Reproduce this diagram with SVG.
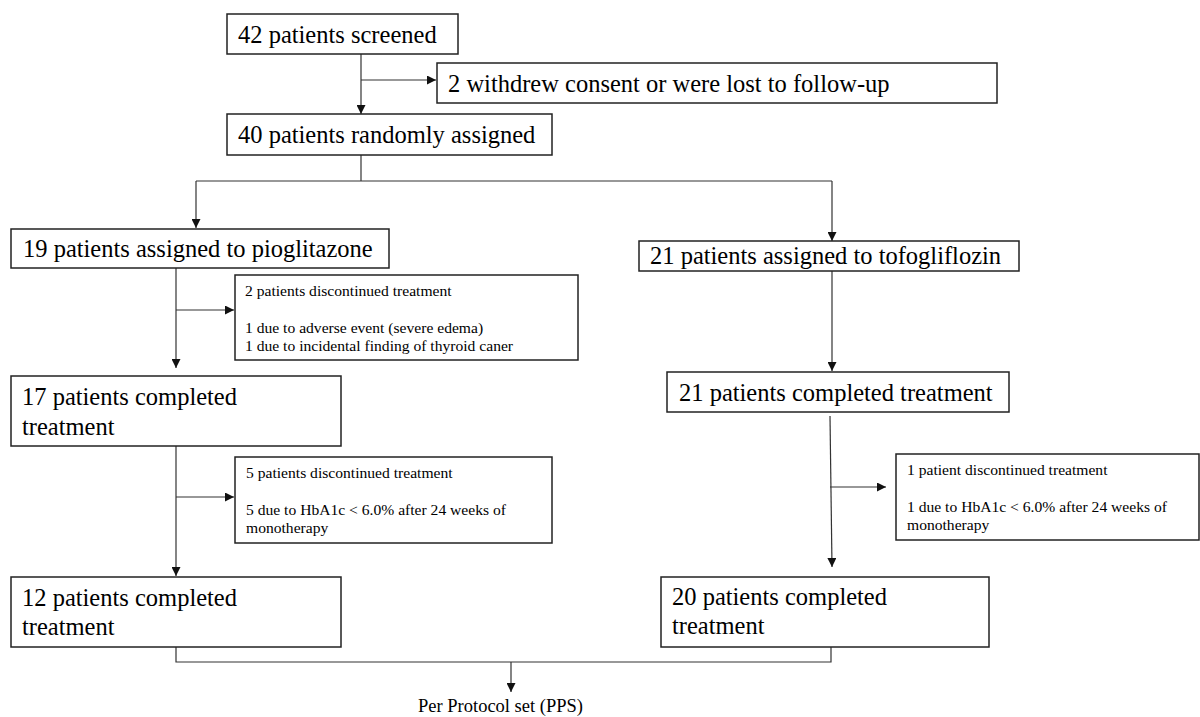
<svg xmlns="http://www.w3.org/2000/svg" width="1200" height="717" viewBox="0 0 1200 717">
<defs>
<marker id="ah" viewBox="0 0 10 10" refX="10" refY="5" markerUnits="userSpaceOnUse" markerWidth="9" markerHeight="9" orient="auto">
<path d="M0,0 L10,5 L0,10 z" fill="#111"/>
</marker>
<style>
text{font-family:'Liberation Serif','Times New Roman',Times,serif;fill:#000}
.box{fill:#fff;stroke:#222;stroke-width:1.5}
.big{font-size:24.5px}
.small{font-size:15.6px}
.pps{font-size:18.5px}
.ln{fill:none;stroke:#333;stroke-width:1.2}
.arr{fill:none;stroke:#333;stroke-width:1.2;marker-end:url(#ah)}
</style>
</defs>
<rect width="1200" height="717" fill="#fff"/>
<g id="connectors">
<line class="arr" x1="361" y1="43" x2="361" y2="114"/>
<line class="arr" x1="361" y1="80" x2="436" y2="80"/>
<polyline class="ln" points="361,155 361,181"/>
<line class="ln" x1="196" y1="181" x2="832" y2="181"/>
<line class="arr" x1="196" y1="181" x2="196" y2="228"/>
<line class="arr" x1="832" y1="181" x2="832" y2="241"/>
<line class="arr" x1="176" y1="268" x2="176" y2="368"/>
<line class="arr" x1="176" y1="310" x2="234" y2="310"/>
<line class="arr" x1="832" y1="271" x2="832" y2="371"/>
<line class="arr" x1="176" y1="446" x2="176" y2="576"/>
<line class="arr" x1="176" y1="497" x2="234" y2="497"/>
<line class="arr" x1="830" y1="416" x2="832" y2="567"/>
<line class="arr" x1="830" y1="487" x2="886" y2="487"/>
<polyline class="ln" points="176,647 176,662 831,662 831,647"/>
<line class="arr" x1="511" y1="662" x2="511" y2="692"/>
</g>
<g id="n1"><rect class="box" x="227" y="14" width="231" height="40"/><text class="big" x="238" y="43" font-family="Liberation Serif">42 patients screened</text></g>
<g id="n2"><rect class="box" x="437" y="63" width="560" height="40"/><text class="big" x="448" y="92">2 withdrew consent or were lost to follow-up</text></g>
<g id="n3"><rect class="box" x="227" y="114" width="325" height="41"/><text class="big" x="238" y="143">40 patients randomly assigned</text></g>
<g id="n4"><rect class="box" x="11" y="229" width="378" height="39"/><text class="big" x="23" y="257">19 patients assigned to pioglitazone</text></g>
<g id="n5"><rect class="box" x="639" y="241" width="380" height="30"/><text class="big" x="650" y="264">21 patients assigned to tofogliflozin</text></g>
<g id="n6"><rect class="box" x="235" y="275" width="343" height="85"/>
<text class="small" x="245" y="296">2 patients discontinued treatment</text>
<text class="small" x="245" y="333">1 due to adverse event (severe edema)</text>
<text class="small" x="245" y="351">1 due to incidental finding of thyroid caner</text></g>
<g id="n7"><rect class="box" x="11" y="376" width="330" height="70"/><text class="big" x="22" y="405">17 patients completed</text><text class="big" x="22" y="435">treatment</text></g>
<g id="n8"><rect class="box" x="667" y="372" width="342" height="40"/><text class="big" x="679" y="401">21 patients completed treatment</text></g>
<g id="n9"><rect class="box" x="235" y="457" width="317" height="86"/>
<text class="small" x="246" y="478">5 patients discontinued treatment</text>
<text class="small" x="246" y="515">5 due to HbA1c &lt; 6.0% after 24 weeks of</text>
<text class="small" x="246" y="533">monotherapy</text></g>
<g id="n10"><rect class="box" x="896" y="454" width="303" height="86"/>
<text class="small" x="907" y="475">1 patient discontinued treatment</text>
<text class="small" x="907" y="512">1 due to HbA1c &lt; 6.0% after 24 weeks of</text>
<text class="small" x="907" y="530">monotherapy</text></g>
<g id="n11"><rect class="box" x="11" y="577" width="330" height="70"/><text class="big" x="22" y="606">12 patients completed</text><text class="big" x="22" y="635">treatment</text></g>
<g id="n12"><rect class="box" x="661" y="577" width="328" height="70"/><text class="big" x="672" y="605">20 patients completed</text><text class="big" x="672" y="634">treatment</text></g>
<g id="n13"><text class="pps" x="418" y="712">Per Protocol set (PPS)</text></g>
</svg>
